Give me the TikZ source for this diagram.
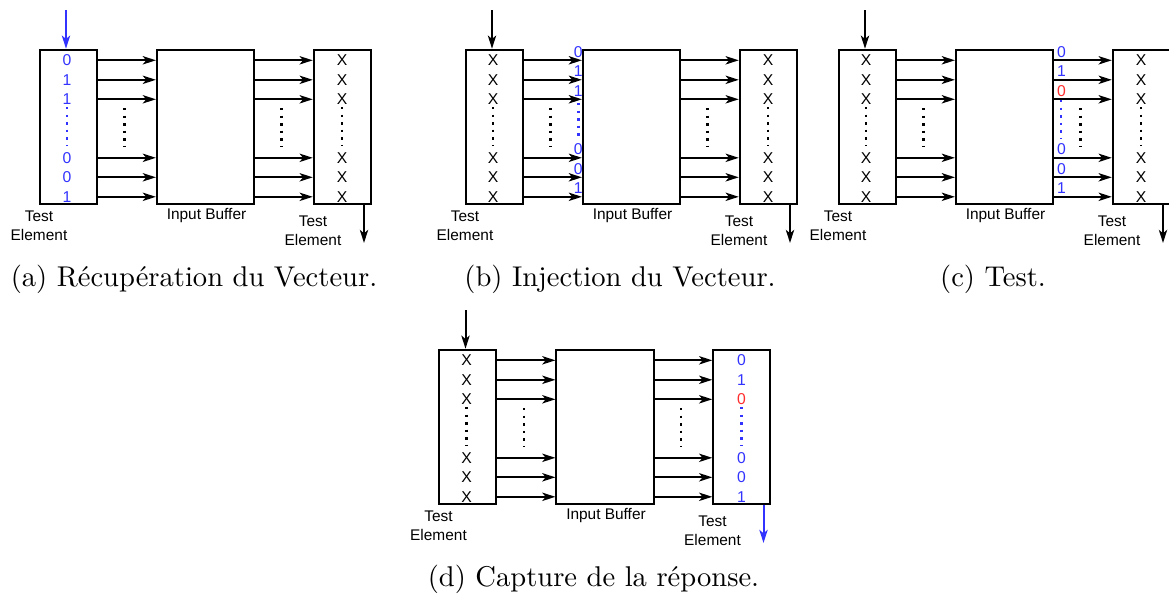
\documentclass[tikz,border=0pt]{standalone}
\usepackage{fontspec}
\setsansfont{Liberation Sans}
\usetikzlibrary{arrows.meta,positioning}
\usepackage{xcolor}
\definecolor{vecblue}{RGB}{51,51,255}
\definecolor{faultred}{RGB}{255,45,45}

\tikzset{
  box/.style={draw,line width=0.7pt,minimum height=53.9pt,inner sep=0pt},
  bit/.style={font=\sffamily\fontsize{5.5}{6.8}\selectfont,inner sep=0pt},
  lbl/.style={font=\sffamily\fontsize{5.4}{6.8}\selectfont,align=center,inner sep=0pt},
  wire/.style={->,line width=0.7pt},
  vdots/.style={line width=0.85pt,dash pattern=on 0.85pt off 1.8pt},
  subcap/.style={font=\fontsize{10}{12}\selectfont,anchor=base,inner sep=0pt},
}

\begin{document}
\begin{tikzpicture}[x=0.35pt,y=-0.35pt,>={Stealth[length=4.6pt,width=2.9pt,inset=1.2pt]}]
  \useasboundingbox (0,0) rectangle (1169,601);
  % same frame in the four steps
  \foreach \p/\dx/\dy/\ci/\co in {a/0/0/vecblue/black,b/426/0/black/black,c/799/0/black/black,d/399.5/300/black/vecblue}{
    \begin{scope}[shift={(\dx,\dy)}]
      \node (\p-in)  [box,minimum width=19.9pt] at (68.35,126.7) {};
      \node (\p-buf) [box,minimum width=34pt]   at (205.5,126.7) {};
      \node (\p-out) [box,minimum width=20pt]   at (342.35,126.7) {};
      \foreach \y in {60.3,79.8,99.3,157.8,177.3,196.8}{
        \draw[wire] (\p-in.east |- 0,\y) -- (\p-buf.west |- 0,\y);
        \draw[wire] (\p-buf.east |- 0,\y) -- (\p-out.west |- 0,\y);
      }
      \draw[vdots] (124.5,108) -- (124.5,146);
      \draw[vdots] (281.5,108) -- (281.5,146);
      \node (\p-lt) [lbl] at (39,226) {Test\\Element};
      \node (\p-bl) [lbl] at (206.5,216) {Input Buffer};
      \node (\p-rt) [lbl] at (313,230.5) {Test\\Element};
      \coordinate (\p-src) at (66,10);
      \coordinate (\p-snk) at (364,243);
      \draw[wire,\ci] (\p-src) -- (\p-src |- \p-in.north);
      \draw[wire,\co] (\p-snk |- \p-out.south) -- (\p-snk);
    \end{scope}
  }

  % (a) vector read into the test element
  \foreach \t/\y [count=\i] in {0/60.3,1/79.8,1/99.3,0/157.8,0/177.3,1/196.8}
    \node (a-l\i) [bit,text=vecblue] at (67,\y) {\t};
  \draw[vdots,vecblue] (67,107) -- (67,145);
  \foreach \y [count=\i] in {60.3,79.8,99.3,157.8,177.3,196.8}
    \node (a-r\i) [bit] at (342,\y) {X};
  \draw[vdots] (342,107) -- (342,145);
  \node (a-cap) [subcap] at (194,286) {(a) Récupération du Vecteur.};

  % (b) vector pushed into the buffer
  \begin{scope}[shift={(426,0)}]
    \foreach \y [count=\i] in {60.3,79.8,99.3,157.8,177.3,196.8}{
      \node (b-l\i) [bit] at (67,\y) {X};
      \node (b-r\i) [bit] at (342,\y) {X};
    }
    \draw[vdots] (67,107) -- (67,145);
    \draw[vdots] (342,107) -- (342,145);
    \foreach \t/\y [count=\i] in {0/60.3,1/79.8,1/99.3,0/157.8,0/177.3,1/196.8}
      \node (b-v\i) [bit,text=vecblue] at (152.3,\y-8.5) {\t};
    \draw[vdots,vecblue] (152.3,103) -- (152.3,138);
    \node (b-cap) [subcap] at (194,286) {(b) Injection du Vecteur.};
  \end{scope}

  % (c) buffer output
  \begin{scope}[shift={(799,0)}]
    \foreach \y [count=\i] in {60.3,79.8,99.3,157.8,177.3,196.8}{
      \node (c-l\i) [bit] at (67,\y) {X};
      \node (c-r\i) [bit] at (342,\y) {X};
    }
    \draw[vdots] (67,107) -- (67,145);
    \draw[vdots] (342,107) -- (342,145);
    \foreach \t/\y/\c [count=\i] in {0/60.3/vecblue,1/79.8/vecblue,0/99.3/faultred,0/157.8/vecblue,0/177.3/vecblue,1/196.8/vecblue}
      \node (c-v\i) [bit,text=\c] at (262.5,\y-8.5) {\t};
    \draw[vdots,vecblue] (262,100) -- (262,138);
    \node (c-cap) [subcap] at (194,286) {(c) Test.};
  \end{scope}

  % (d) response captured
  \begin{scope}[shift={(399.5,300)}]
    \foreach \y [count=\i] in {60.3,79.8,99.3,157.8,177.3,196.8}
      \node (d-l\i) [bit] at (67,\y) {X};
    \draw[vdots] (67,107) -- (67,145);
    \foreach \t/\y/\c [count=\i] in {0/60.3/vecblue,1/79.8/vecblue,0/99.3/faultred,0/157.8/vecblue,0/177.3/vecblue,1/196.8/vecblue}
      \node (d-r\i) [bit,text=\c] at (342,\y) {\t};
    \draw[vdots,vecblue] (342,107) -- (342,145);
    \node (d-cap) [subcap] at (194,286) {(d) Capture de la réponse.};
  \end{scope}
\end{tikzpicture}
\end{document}
